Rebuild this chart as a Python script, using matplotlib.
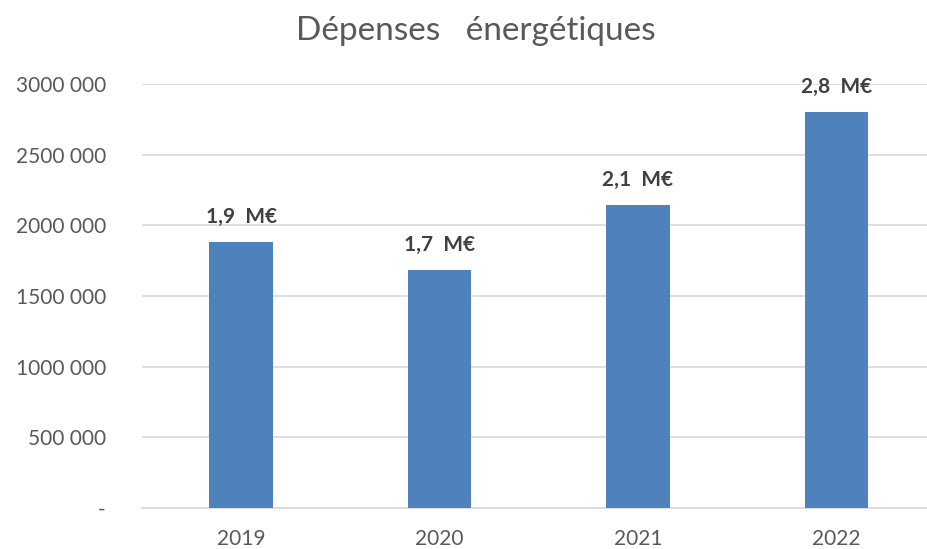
import matplotlib
matplotlib.use("Agg")
import matplotlib.pyplot as plt
from matplotlib.ticker import FuncFormatter

years = ["2019", "2020", "2021", "2022"]
depenses = [1880000, 1685000, 2145000, 2800000]
etiquettes = ["1,9  M€", "1,7  M€", "2,1  M€", "2,8  M€"]
yticks = [0, 500000, 1000000, 1500000, 2000000, 2500000, 3000000]

plt.rcParams["font.family"] = ["Lato", "DejaVu Sans"]

fig = plt.figure(figsize=(9.28, 5.49), dpi=100)
ax = fig.add_axes([0.153, 0.075, 0.855, 0.772])

x = list(range(len(years)))
ax.bar(x, depenses, width=0.32, color="#4f81bd", zorder=3)

for xi, v, lab in zip(x, depenses, etiquettes):
    ax.annotate(lab, (xi, v), xytext=(0, 11), textcoords="offset points",
                ha="center", va="bottom", fontsize=15, fontweight="bold",
                color="#404040")

def fmt(v, pos):
    if v == 0:
        return "-"
    s = "{:,}".format(int(v)).split(",")
    return s[0] + "".join(s[1:-1]) + " " + s[-1]

ax.set_ylim(0, 3000000)
ax.set_xlim(-0.5, 3.5)
ax.set_yticks(yticks)
ax.yaxis.set_major_formatter(FuncFormatter(fmt))
ax.set_xticks(x)
ax.set_xticklabels(years)
ax.tick_params(axis="both", length=0, labelsize=15, colors="#595959")
ax.tick_params(axis="y", pad=26)
ax.tick_params(axis="x", pad=15)
ax.grid(axis="y", color="#d9d9d9", linewidth=1.2, zorder=0)
for s in ["top", "right", "left"]:
    ax.spines[s].set_visible(False)
ax.spines["bottom"].set_color("#d9d9d9")
ax.spines["bottom"].set_linewidth(1.2)

fig.text(0.513, 0.943, "Dépenses   énergétiques", ha="center", va="center",
         fontsize=24, color="#595959")

fig.savefig("out.png", dpi=100)
